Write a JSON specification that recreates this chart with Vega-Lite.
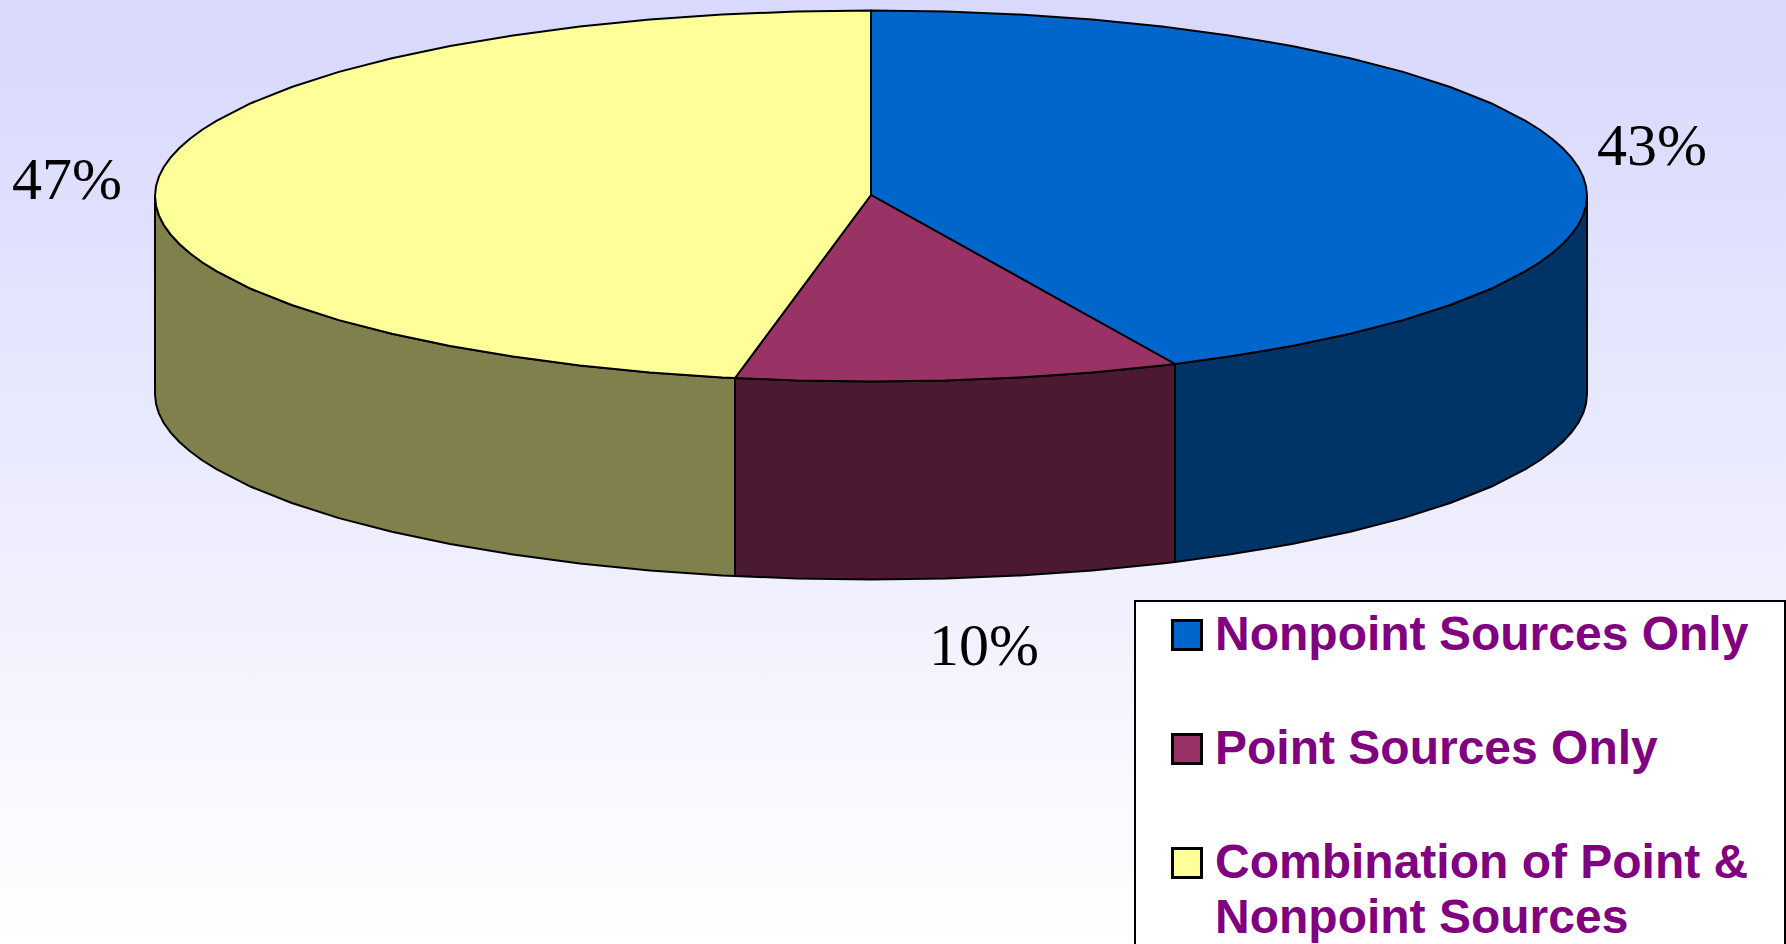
{"$schema":"https://vega.github.io/schema/vega-lite/v6.json","width":1786,"height":944,"autosize":{"type":"none"},"padding":0,"background":"white","config":{"view":{"stroke":null}},
"datasets":{
"bg":[{"x0":0,"x1":1786,"y0":0,"y1":944}],
"box":[{"x0":1135,"x1":1785,"y0":601,"y1":950}],
"labels":[{"t":"43%","x":1652,"y":165},{"t":"47%","x":67,"y":199},{"t":"10%","x":984,"y":665}],
"parts":[
{"part":"Nonpoint wall","o":0,"x":1587,"y":196},{"part":"Nonpoint wall","o":1,"x":1583.1,"y":215.4},{"part":"Nonpoint wall","o":2,"x":1571.3,"y":234.6},{"part":"Nonpoint wall","o":3,"x":1552,"y":253.3},{"part":"Nonpoint wall","o":4,"x":1525.1,"y":271.4},{"part":"Nonpoint wall","o":5,"x":1491.1,"y":288.8},{"part":"Nonpoint wall","o":6,"x":1450.2,"y":305},{"part":"Nonpoint wall","o":7,"x":1403.1,"y":320.1},{"part":"Nonpoint wall","o":8,"x":1350.1,"y":333.8},{"part":"Nonpoint wall","o":9,"x":1291.9,"y":346.1},{"part":"Nonpoint wall","o":10,"x":1229,"y":356.6},{"part":"Nonpoint wall","o":11,"x":1175,"y":364},{"part":"Nonpoint wall","o":12,"x":1175,"y":562},{"part":"Nonpoint wall","o":13,"x":1229,"y":554.6},{"part":"Nonpoint wall","o":14,"x":1291.9,"y":544.1},{"part":"Nonpoint wall","o":15,"x":1350.1,"y":531.8},{"part":"Nonpoint wall","o":16,"x":1403.1,"y":518.1},{"part":"Nonpoint wall","o":17,"x":1450.2,"y":503},{"part":"Nonpoint wall","o":18,"x":1491.1,"y":486.8},{"part":"Nonpoint wall","o":19,"x":1525.1,"y":469.4},{"part":"Nonpoint wall","o":20,"x":1552,"y":451.3},{"part":"Nonpoint wall","o":21,"x":1571.3,"y":432.6},{"part":"Nonpoint wall","o":22,"x":1583.1,"y":413.4},{"part":"Nonpoint wall","o":23,"x":1587,"y":394},{"part":"Nonpoint wall","o":24,"x":1587,"y":196},
{"part":"Point wall","o":0,"x":1175,"y":364},{"part":"Point wall","o":1,"x":1162.2,"y":365.5},{"part":"Point wall","o":2,"x":1092.2,"y":372.4},{"part":"Point wall","o":3,"x":1019.9,"y":377.4},{"part":"Point wall","o":4,"x":945.8,"y":380.5},{"part":"Point wall","o":5,"x":871,"y":381.5},{"part":"Point wall","o":6,"x":796.2,"y":380.5},{"part":"Point wall","o":7,"x":735,"y":378},{"part":"Point wall","o":8,"x":735,"y":576},{"part":"Point wall","o":9,"x":796.2,"y":578.5},{"part":"Point wall","o":10,"x":871,"y":579.5},{"part":"Point wall","o":11,"x":945.8,"y":578.5},{"part":"Point wall","o":12,"x":1019.9,"y":575.4},{"part":"Point wall","o":13,"x":1092.2,"y":570.4},{"part":"Point wall","o":14,"x":1162.2,"y":563.5},{"part":"Point wall","o":15,"x":1175,"y":562},{"part":"Point wall","o":16,"x":1175,"y":364},
{"part":"Combination wall","o":0,"x":735,"y":378},{"part":"Combination wall","o":1,"x":722.1,"y":377.4},{"part":"Combination wall","o":2,"x":649.8,"y":372.4},{"part":"Combination wall","o":3,"x":579.8,"y":365.5},{"part":"Combination wall","o":4,"x":513,"y":356.6},{"part":"Combination wall","o":5,"x":450.1,"y":346.1},{"part":"Combination wall","o":6,"x":391.9,"y":333.8},{"part":"Combination wall","o":7,"x":338.9,"y":320.1},{"part":"Combination wall","o":8,"x":291.8,"y":305},{"part":"Combination wall","o":9,"x":250.9,"y":288.8},{"part":"Combination wall","o":10,"x":216.9,"y":271.4},{"part":"Combination wall","o":11,"x":190,"y":253.3},{"part":"Combination wall","o":12,"x":170.7,"y":234.6},{"part":"Combination wall","o":13,"x":158.9,"y":215.4},{"part":"Combination wall","o":14,"x":155,"y":196},{"part":"Combination wall","o":15,"x":155,"y":394},{"part":"Combination wall","o":16,"x":158.9,"y":413.4},{"part":"Combination wall","o":17,"x":170.7,"y":432.6},{"part":"Combination wall","o":18,"x":190,"y":451.3},{"part":"Combination wall","o":19,"x":216.9,"y":469.4},{"part":"Combination wall","o":20,"x":250.9,"y":486.8},{"part":"Combination wall","o":21,"x":291.8,"y":503},{"part":"Combination wall","o":22,"x":338.9,"y":518.1},{"part":"Combination wall","o":23,"x":391.9,"y":531.8},{"part":"Combination wall","o":24,"x":450.1,"y":544.1},{"part":"Combination wall","o":25,"x":513,"y":554.6},{"part":"Combination wall","o":26,"x":579.8,"y":563.5},{"part":"Combination wall","o":27,"x":649.8,"y":570.4},{"part":"Combination wall","o":28,"x":722.1,"y":575.4},{"part":"Combination wall","o":29,"x":735,"y":576},{"part":"Combination wall","o":30,"x":735,"y":378},
{"part":"Nonpoint Sources Only","o":0,"x":871,"y":195},{"part":"Nonpoint Sources Only","o":1,"x":871,"y":10.5},{"part":"Nonpoint Sources Only","o":2,"x":945.8,"y":11.5},{"part":"Nonpoint Sources Only","o":3,"x":1019.9,"y":14.6},{"part":"Nonpoint Sources Only","o":4,"x":1092.2,"y":19.6},{"part":"Nonpoint Sources Only","o":5,"x":1162.2,"y":26.5},{"part":"Nonpoint Sources Only","o":6,"x":1229,"y":35.4},{"part":"Nonpoint Sources Only","o":7,"x":1291.9,"y":45.9},{"part":"Nonpoint Sources Only","o":8,"x":1350.1,"y":58.2},{"part":"Nonpoint Sources Only","o":9,"x":1403.1,"y":71.9},{"part":"Nonpoint Sources Only","o":10,"x":1450.2,"y":87},{"part":"Nonpoint Sources Only","o":11,"x":1491.1,"y":103.2},{"part":"Nonpoint Sources Only","o":12,"x":1525.1,"y":120.6},{"part":"Nonpoint Sources Only","o":13,"x":1552,"y":138.7},{"part":"Nonpoint Sources Only","o":14,"x":1571.3,"y":157.4},{"part":"Nonpoint Sources Only","o":15,"x":1583.1,"y":176.6},{"part":"Nonpoint Sources Only","o":16,"x":1587,"y":196},{"part":"Nonpoint Sources Only","o":17,"x":1583.1,"y":215.4},{"part":"Nonpoint Sources Only","o":18,"x":1571.3,"y":234.6},{"part":"Nonpoint Sources Only","o":19,"x":1552,"y":253.3},{"part":"Nonpoint Sources Only","o":20,"x":1525.1,"y":271.4},{"part":"Nonpoint Sources Only","o":21,"x":1491.1,"y":288.8},{"part":"Nonpoint Sources Only","o":22,"x":1450.2,"y":305},{"part":"Nonpoint Sources Only","o":23,"x":1403.1,"y":320.1},{"part":"Nonpoint Sources Only","o":24,"x":1350.1,"y":333.8},{"part":"Nonpoint Sources Only","o":25,"x":1291.9,"y":346.1},{"part":"Nonpoint Sources Only","o":26,"x":1229,"y":356.6},{"part":"Nonpoint Sources Only","o":27,"x":1175,"y":364},{"part":"Nonpoint Sources Only","o":28,"x":871,"y":195},
{"part":"Point Sources Only","o":0,"x":871,"y":195},{"part":"Point Sources Only","o":1,"x":1175,"y":364},{"part":"Point Sources Only","o":2,"x":1162.2,"y":365.5},{"part":"Point Sources Only","o":3,"x":1092.2,"y":372.4},{"part":"Point Sources Only","o":4,"x":1019.9,"y":377.4},{"part":"Point Sources Only","o":5,"x":945.8,"y":380.5},{"part":"Point Sources Only","o":6,"x":871,"y":381.5},{"part":"Point Sources Only","o":7,"x":796.2,"y":380.5},{"part":"Point Sources Only","o":8,"x":735,"y":378},{"part":"Point Sources Only","o":9,"x":871,"y":195},
{"part":"Combination of Point & Nonpoint Sources","o":0,"x":871,"y":195},{"part":"Combination of Point & Nonpoint Sources","o":1,"x":735,"y":378},{"part":"Combination of Point & Nonpoint Sources","o":2,"x":722.1,"y":377.4},{"part":"Combination of Point & Nonpoint Sources","o":3,"x":649.8,"y":372.4},{"part":"Combination of Point & Nonpoint Sources","o":4,"x":579.8,"y":365.5},{"part":"Combination of Point & Nonpoint Sources","o":5,"x":513,"y":356.6},{"part":"Combination of Point & Nonpoint Sources","o":6,"x":450.1,"y":346.1},{"part":"Combination of Point & Nonpoint Sources","o":7,"x":391.9,"y":333.8},{"part":"Combination of Point & Nonpoint Sources","o":8,"x":338.9,"y":320.1},{"part":"Combination of Point & Nonpoint Sources","o":9,"x":291.8,"y":305},{"part":"Combination of Point & Nonpoint Sources","o":10,"x":250.9,"y":288.8},{"part":"Combination of Point & Nonpoint Sources","o":11,"x":216.9,"y":271.4},{"part":"Combination of Point & Nonpoint Sources","o":12,"x":190,"y":253.3},{"part":"Combination of Point & Nonpoint Sources","o":13,"x":170.7,"y":234.6},{"part":"Combination of Point & Nonpoint Sources","o":14,"x":158.9,"y":215.4},{"part":"Combination of Point & Nonpoint Sources","o":15,"x":155,"y":196},{"part":"Combination of Point & Nonpoint Sources","o":16,"x":158.9,"y":176.6},{"part":"Combination of Point & Nonpoint Sources","o":17,"x":170.7,"y":157.4},{"part":"Combination of Point & Nonpoint Sources","o":18,"x":190,"y":138.7},{"part":"Combination of Point & Nonpoint Sources","o":19,"x":216.9,"y":120.6},{"part":"Combination of Point & Nonpoint Sources","o":20,"x":250.9,"y":103.2},{"part":"Combination of Point & Nonpoint Sources","o":21,"x":291.8,"y":87},{"part":"Combination of Point & Nonpoint Sources","o":22,"x":338.9,"y":71.9},{"part":"Combination of Point & Nonpoint Sources","o":23,"x":391.9,"y":58.2},{"part":"Combination of Point & Nonpoint Sources","o":24,"x":450.1,"y":45.9},{"part":"Combination of Point & Nonpoint Sources","o":25,"x":513,"y":35.4},{"part":"Combination of Point & Nonpoint Sources","o":26,"x":579.8,"y":26.5},{"part":"Combination of Point & Nonpoint Sources","o":27,"x":649.8,"y":19.6},{"part":"Combination of Point & Nonpoint Sources","o":28,"x":722.1,"y":14.6},{"part":"Combination of Point & Nonpoint Sources","o":29,"x":796.2,"y":11.5},{"part":"Combination of Point & Nonpoint Sources","o":30,"x":871,"y":10.5},{"part":"Combination of Point & Nonpoint Sources","o":31,"x":871,"y":195},
{"part":"Nonpoint wall","o":0.5,"x":1586,"y":205.7},{"part":"Nonpoint wall","o":1.5,"x":1578.2,"y":225},{"part":"Nonpoint wall","o":2.5,"x":1562.6,"y":244},{"part":"Nonpoint wall","o":3.5,"x":1539.5,"y":262.5},{"part":"Nonpoint wall","o":19.5,"x":1539.5,"y":460.5},{"part":"Nonpoint wall","o":20.5,"x":1562.6,"y":442},{"part":"Nonpoint wall","o":21.5,"x":1578.2,"y":423},{"part":"Nonpoint wall","o":22.5,"x":1586,"y":403.7},
{"part":"Combination wall","o":10.5,"x":202.5,"y":262.5},{"part":"Combination wall","o":11.5,"x":179.4,"y":244},{"part":"Combination wall","o":12.5,"x":163.8,"y":225},{"part":"Combination wall","o":13.5,"x":156,"y":205.7},{"part":"Combination wall","o":15.5,"x":156,"y":403.7},{"part":"Combination wall","o":16.5,"x":163.8,"y":423},{"part":"Combination wall","o":17.5,"x":179.4,"y":442},{"part":"Combination wall","o":18.5,"x":202.5,"y":460.5},
{"part":"Nonpoint Sources Only","o":12.5,"x":1539.5,"y":129.5},{"part":"Nonpoint Sources Only","o":13.5,"x":1562.6,"y":148},{"part":"Nonpoint Sources Only","o":14.5,"x":1578.2,"y":167},{"part":"Nonpoint Sources Only","o":15.5,"x":1586,"y":186.3},{"part":"Nonpoint Sources Only","o":16.5,"x":1586,"y":205.7},{"part":"Nonpoint Sources Only","o":17.5,"x":1578.2,"y":225},{"part":"Nonpoint Sources Only","o":18.5,"x":1562.6,"y":244},{"part":"Nonpoint Sources Only","o":19.5,"x":1539.5,"y":262.5},
{"part":"Combination of Point & Nonpoint Sources","o":11.5,"x":202.5,"y":262.5},{"part":"Combination of Point & Nonpoint Sources","o":12.5,"x":179.4,"y":244},{"part":"Combination of Point & Nonpoint Sources","o":13.5,"x":163.8,"y":225},{"part":"Combination of Point & Nonpoint Sources","o":14.5,"x":156,"y":205.7},{"part":"Combination of Point & Nonpoint Sources","o":15.5,"x":156,"y":186.3},{"part":"Combination of Point & Nonpoint Sources","o":16.5,"x":163.8,"y":167},{"part":"Combination of Point & Nonpoint Sources","o":17.5,"x":179.4,"y":148},{"part":"Combination of Point & Nonpoint Sources","o":18.5,"x":202.5,"y":129.5}
]},
"layer":[
{"data":{"name":"bg"},"mark":{"type":"rect","stroke":null,"color":{"gradient":"linear","x1":0,"y1":0,"x2":0,"y2":1,"stops":[{"offset":0,"color":"#d9d9fd"},{"offset":0.08,"color":"#dadafd"},{"offset":1,"color":"#ffffff"}]}},
"encoding":{"x":{"field":"x0","type":"quantitative","scale":{"domain":[0,1786],"nice":false,"zero":false},"axis":null},"x2":{"field":"x1"},"y":{"field":"y0","type":"quantitative","scale":{"domain":[944,0],"nice":false,"zero":false},"axis":null},"y2":{"field":"y1"}}},
{"data":{"name":"box"},"mark":{"type":"rect","fill":"white","stroke":"black","strokeWidth":2},
"encoding":{"x":{"field":"x0","type":"quantitative","scale":{"domain":[0,1786],"nice":false,"zero":false},"axis":null},"x2":{"field":"x1"},"y":{"field":"y0","type":"quantitative","scale":{"domain":[944,0],"nice":false,"zero":false},"axis":null},"y2":{"field":"y1"}}},
{"data":{"name":"parts"},"mark":{"type":"line","stroke":"black","strokeWidth":2,"strokeJoin":"round"},
"encoding":{"x":{"field":"x","type":"quantitative","scale":{"domain":[0,1786],"nice":false,"zero":false},"axis":null},"y":{"field":"y","type":"quantitative","scale":{"domain":[944,0],"nice":false,"zero":false},"axis":null},"order":{"field":"o","type":"quantitative"},
"fill":{"field":"part","type":"nominal","sort":null,"scale":{"domain":["Nonpoint wall","Point wall","Combination wall","Nonpoint Sources Only","Point Sources Only","Combination of Point & Nonpoint Sources"],"range":["#003366","#4c1933","#80804d","#0066cc","#993366","#ffff99"]},
"legend":{"values":["Nonpoint Sources Only","Point Sources Only","Combination of Point & Nonpoint Sources"],"orient":"none","legendX":1135,"legendY":601,"title":null,"padding":10,"symbolType":"square","symbolSize":840,"symbolStrokeColor":"black","symbolStrokeWidth":3,"symbolOffset":18,"labelFont":"Liberation Sans","labelFontWeight":"bold","labelFontSize":48,"labelColor":"#800080","labelLimit":700,"labelOffset":4,"rowPadding":65,"labelExpr":"datum.label == 'Combination of Point & Nonpoint Sources' ? ['Combination of Point &','Nonpoint Sources'] : datum.label","encode":{"labels":{"update":{"baseline":{"value":"alphabetic"},"dy":{"value":15},"lineHeight":{"value":55}}}}}}}},
{"data":{"name":"labels"},"mark":{"type":"text","font":"Liberation Serif","fontSize":60,"align":"center","baseline":"alphabetic","color":"black"},
"encoding":{"x":{"field":"x","type":"quantitative","scale":{"domain":[0,1786],"nice":false,"zero":false},"axis":null},"y":{"field":"y","type":"quantitative","scale":{"domain":[944,0],"nice":false,"zero":false},"axis":null},"text":{"field":"t","type":"nominal"}}}
]}
